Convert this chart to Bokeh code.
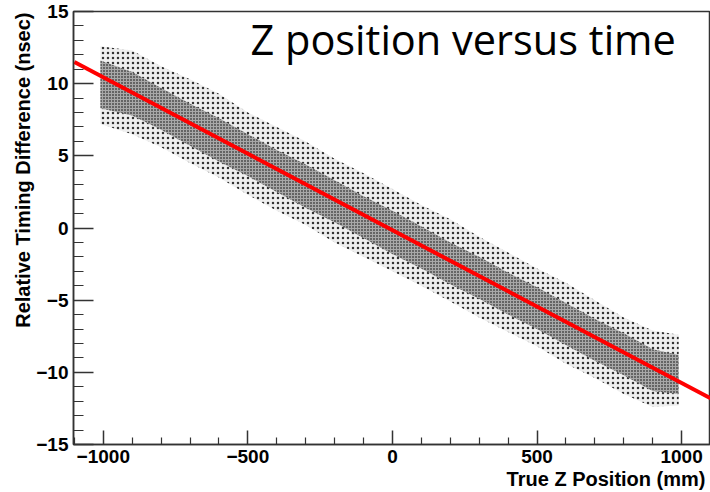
import math
from bokeh.plotting import figure
from bokeh.models import Range1d, FixedTicker, Label, Title, ColumnDataSource
from bokeh.embed import file_html
from bokeh.resources import INLINE

# ---- data ----
cloud_x = [-1010, -900, -800, -700, -600, -500, -400, -300, -200, -100, 0,
           100, 200, 300, 400, 500, 600, 700, 800, 900, 990]
outer_hi = [12.6, 12.3, 11.2, 10.3, 9.3, 8.0, 7.0, 6.0, 4.8, 3.8, 2.7,
            1.6, 0.6, -0.6, -1.7, -2.8, -3.8, -5.0, -6.2, -7.1, -7.4]
outer_lo = [7.2, 6.5, 5.6, 4.5, 3.5, 2.3, 1.2, 0.2, -1.0, -2.0, -3.0,
            -4.0, -5.1, -6.2, -7.2, -8.2, -9.4, -10.4, -11.5, -12.4, -12.3]
core_hi = [11.6, 10.8, 9.7, 8.6, 7.6, 6.5, 5.4, 4.4, 3.3, 2.2, 1.2,
           0.1, -1.0, -2.0, -3.1, -4.1, -5.2, -6.3, -7.3, -8.4, -8.8]
core_lo = [8.3, 7.8, 6.8, 5.7, 4.6, 3.6, 2.5, 1.4, 0.4, -0.7, -1.8,
           -2.8, -3.9, -4.9, -6.0, -7.0, -8.1, -9.2, -10.2, -11.3, -11.5]

fit_x = [-1100, 1100]
fit_y = [11.5, -11.8]

x_major = [-1000, -500, 0, 500, 1000]
x_minor = [-1100, -900, -800, -700, -600, -400, -300, -200, -100,
           100, 200, 300, 400, 600, 700, 800, 900, 1100]
x_labels = {-1000: "\u22121000", -500: "\u2212500", 0: "0", 500: "500", 1000: "1000"}
y_major = [-15, -10, -5, 0, 5, 10, 15]
y_minor = [v for v in range(-15, 16) if v % 5 != 0]
y_labels = {-15: "\u221215", -10: "\u221210", -5: "\u22125", 0: "0", 5: "5", 10: "10", 15: "15"}

title_text = "Z position versus time"
x_title = "True Z Position (mm)"
y_title = "Relative Timing Difference (nsec)"

# ---- figure ----
p = figure(width=710, height=492, output_backend="svg", toolbar_location=None,
           x_range=Range1d(-1103, 1100), y_range=Range1d(-15, 15),
           min_border_left=73, min_border_right=0, min_border_top=11,
           min_border_bottom=48)
p.background_fill_color = "white"
p.border_fill_color = "white"
p.outline_line_color = "#333333"
p.outline_line_width = 1.5
p.grid.visible = False

src = ColumnDataSource(dict(x=cloud_x, ohi=outer_hi, olo=outer_lo, chi=core_hi, clo=core_lo))
p.varea(x="x", y1="olo", y2="ohi", source=src, fill_color="#efefef",
        hatch_pattern="dot", hatch_color="#333333", hatch_scale=5, hatch_weight=1.0)
p.varea(x="x", y1="clo", y2="chi", source=src, fill_color="#a8a8a8",
        hatch_pattern="dot", hatch_color="#000000", hatch_scale=3, hatch_weight=1.0)

p.line(fit_x, fit_y, line_color="#ff0000", line_width=4)

font = "Liberation Sans"
for ax, major, minor, labels, tin, min_in in (
        (p.xaxis[0], x_major, x_minor, x_labels, 14, 7),
        (p.yaxis[0], y_major, y_minor, y_labels, 20, 10)):
    ax.ticker = FixedTicker(ticks=major, minor_ticks=minor)
    ax.major_label_overrides = labels
    ax.major_tick_in = tin
    ax.major_tick_out = 0
    ax.minor_tick_in = min_in
    ax.minor_tick_out = 0
    ax.axis_line_color = "#333333"
    ax.axis_line_width = 1.5
    ax.major_tick_line_color = "#333333"
    ax.minor_tick_line_color = "#333333"
    ax.major_tick_line_width = 1.5
    ax.minor_tick_line_width = 1.2
    ax.major_label_text_font = font
    ax.major_label_text_font_style = "bold"
    ax.major_label_text_font_size = "19px"
    ax.major_label_text_color = "black"
p.xaxis[0].major_label_standoff = 5
p.yaxis[0].major_label_standoff = 5

# axis titles as side titles (right / top aligned like ROOT)
p.add_layout(Title(text=x_title, align="right", offset=5, standoff=0,
                   text_font=font, text_font_style="bold", text_font_size="20px",
                   text_color="black"), "below")
p.add_layout(Title(text=y_title, align="right", offset=1, standoff=0,
                   text_font=font, text_font_style="bold", text_font_size="20px",
                   text_color="black"), "left")

# chart title inside the frame
p.add_layout(Label(x=-491, y=13.1, text=title_text, text_font="Open Sans",
                   text_font_size="41.5px", text_color="black",
                   text_baseline="alphabetic", text_align="left"))

open("out.html", "w").write(file_html(p, INLINE))
